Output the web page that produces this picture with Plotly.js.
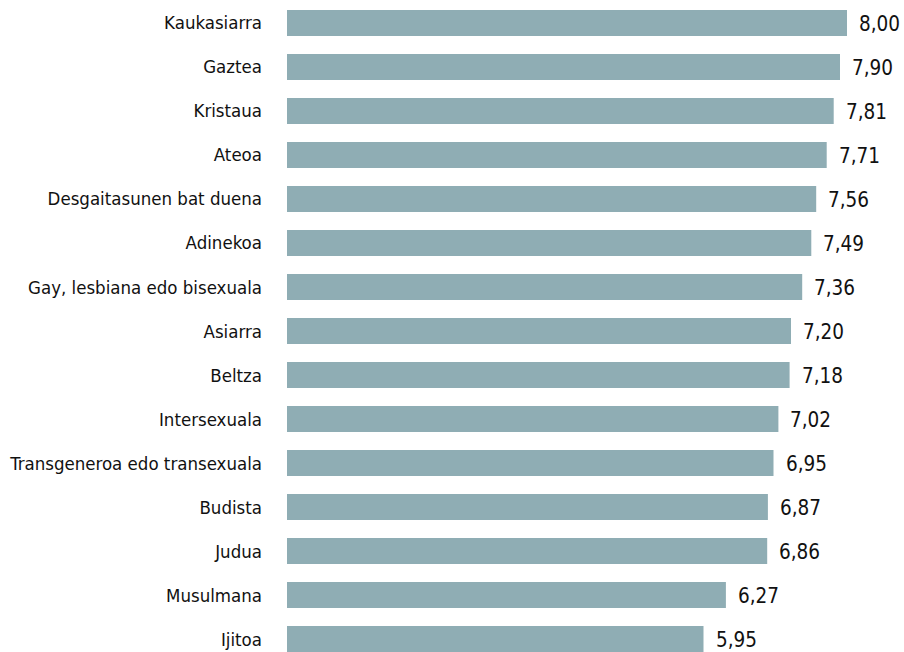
<!DOCTYPE html>
<html>
<head>
<meta charset="utf-8">
<script src="https://cdn.plot.ly/plotly-3.0.1.min.js"></script>
<style>html,body{margin:0;padding:0;background:#fff;}#chart{width:904px;height:652px;}</style>
</head>
<body>
<div id="chart"></div>
<script>
const categories = ["Kaukasiarra","Gaztea","Kristaua","Ateoa","Desgaitasunen bat duena","Adinekoa","Gay, lesbiana edo bisexuala","Asiarra","Beltza","Intersexuala","Transgeneroa edo transexuala","Budista","Judua","Musulmana","Ijitoa"];
const values = [8.00,7.90,7.81,7.71,7.56,7.49,7.36,7.20,7.18,7.02,6.95,6.87,6.86,6.27,5.95];

const FONT = "'DejaVu Sans Condensed', 'Liberation Sans', sans-serif";

const annotations = values.map((v, i) => ({
  x: v, y: categories[i], xref: 'x', yref: 'y',
  text: v.toFixed(2).replace('.', ','),
  showarrow: false, xanchor: 'left', yanchor: 'middle', xshift: 10, yshift: -1,
  font: {family: FONT, size: 20.5, color: '#111'}
}));

const trace = {
  type: 'bar', orientation: 'h',
  x: values, y: categories,
  marker: {color: '#8FADB4'},
  hoverinfo: 'none'
};

const layout = {
  width: 904, height: 652,
  margin: {l: 287, r: 1, t: 0, b: 0, pad: 0},
  paper_bgcolor: '#fff', plot_bgcolor: '#fff',
  bargap: 0.41,
  showlegend: false,
  xaxis: {range: [0, 8.8], visible: false, fixedrange: true},
  yaxis: {
    type: 'category', range: [14.295, -0.523],
    showgrid: false, zeroline: false, showline: false,
    ticks: '', ticklabelstandoff: 24,
    tickfont: {family: FONT, size: 18.5, color: '#111'}
  },
  annotations: annotations
};

Plotly.newPlot('chart', [trace], layout, {displayModeBar: false, staticPlot: true});
</script>
</body>
</html>
